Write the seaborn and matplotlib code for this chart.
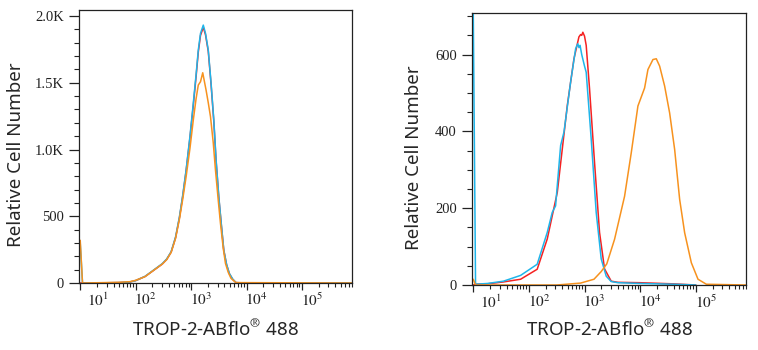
import numpy as np
import matplotlib.pyplot as plt
import matplotlib.ticker as mticker
import matplotlib.transforms as mtransforms
import seaborn as sns

sns.set_style("ticks")
plt.rcParams["font.family"] = ["Noto Sans", "DejaVu Sans"]
plt.rcParams["mathtext.fontset"] = "stix"

RED = "#F52222"
CYAN = "#1FB5EA"
ORANGE = "#F7921E"

# ── Left panel data (fluorescence intensity vs. cell count) ──
left_x = [10, 11, 13, 50, 79, 100, 148, 200, 302, 363, 437, 525, 617, 708, 813,
          955, 1096, 1230, 1349, 1479, 1660, 1820, 2042, 2291, 2570, 2818, 3162,
          3548, 3890, 4365, 4898, 5623, 6457, 10000, 800000]
left_cyan = [300, 0, 0, 3, 8, 18, 50, 90, 145, 180, 235, 345, 497, 660, 846,
             1100, 1346, 1560, 1745, 1870, 1932, 1870, 1745, 1500, 1221, 930, 646,
             420, 247, 140, 72, 30, 3, 0, 0]
left_red = [0, 0, 0, 3, 8, 18, 49, 88, 142, 177, 232, 340, 490, 652, 840,
            1090, 1330, 1545, 1730, 1855, 1915, 1860, 1735, 1490, 1210, 920, 640,
            415, 245, 138, 70, 28, 3, 0, 0]
left_orange_x = [10, 11, 50, 79, 100, 148, 200, 302, 363, 437, 525, 617, 708, 813,
                 955, 1096, 1230, 1349, 1479, 1622, 1738, 1862, 2042, 2239, 2512,
                 2754, 3090, 3388, 3802, 4169, 4677, 5248, 6457, 800000]
left_orange = [320, 0, 5, 10, 20, 48, 88, 142, 175, 230, 335, 480, 630, 796,
               1010, 1221, 1380, 1483, 1508, 1575, 1510, 1446, 1350, 1246, 1050,
               846, 620, 447, 260, 147, 80, 35, 3, 0]

# ── Right panel data ──
right_cyan_x = [10, 11, 18, 35, 71, 141, 214, 263, 302, 372, 427, 562, 692, 724,
                759, 794, 832, 891, 1000, 1072, 1318, 1622, 1995, 2455, 3020, 3981,
                10000, 39811, 100000]
right_cyan = [720, 2, 4, 10, 25, 54, 137, 189, 206, 363, 398, 528, 615, 622,
              628, 618, 624, 600, 570, 554, 381, 189, 68, 23, 9, 6, 4, 2, 0]
right_red_x = [10, 11, 18, 35, 71, 100, 141, 214, 324, 490, 646, 794, 851, 891,
               933, 1000, 1072, 1230, 1514, 1862, 2291, 3020, 3981, 10000, 39811,
               100000]
right_red = [0, 2, 3, 8, 15, 28, 41, 120, 241, 467, 589, 646, 652, 650,
             658, 648, 624, 512, 319, 137, 42, 10, 7, 6, 3, 0]
right_orange_x = [10, 11, 316, 851, 1479, 1995, 2512, 3467, 5248, 6918, 9120,
                  12023, 13804, 16982, 19498, 22387, 27542, 33884, 41687, 51286,
                  63096, 83176, 109648, 154882, 800000]
right_orange = [15, 0, 0, 5, 15, 35, 55, 119, 231, 344, 466, 513, 561, 587, 589,
                570, 518, 448, 353, 223, 136, 58, 15, 2, 0]

x_ticks = [10, 100, 1000, 10000, 100000]
x_ticklabels = ["$10^{1}$", "$10^{2}$", "$10^{3}$", "$10^{4}$", "$10^{5}$"]
left_yticks = [0, 500, 1000, 1500, 2000]
left_yticklabels = ["0", "500", "1.0K", "1.5K", "2.0K"]
right_yticks = [0, 200, 400, 600]
right_yticklabels = ["0", "200", "400", "600"]

fig = plt.figure(figsize=(7.58, 3.5), dpi=100)
ax1 = fig.add_axes([0.1042, 0.1914, 0.3602, 0.780])
ax2 = fig.add_axes([0.6227, 0.1857, 0.3615, 0.777])

LW = 1.1
sns.lineplot(x=left_x, y=left_red, color=RED, lw=LW, ax=ax1, estimator=None)
sns.lineplot(x=left_x, y=left_cyan, color=CYAN, lw=LW, ax=ax1, estimator=None)
sns.lineplot(x=left_orange_x, y=left_orange, color=ORANGE, lw=LW, ax=ax1, estimator=None)

sns.lineplot(x=right_red_x, y=right_red, color=RED, lw=LW, ax=ax2, estimator=None)
sns.lineplot(x=right_cyan_x, y=right_cyan, color=CYAN, lw=LW, ax=ax2, estimator=None)
sns.lineplot(x=right_orange_x, y=right_orange, color=ORANGE, lw=LW, ax=ax2, estimator=None)


def style_axis(ax, ymax, yticks, yticklabels, yminor, ylab_x, xlab_y):
    ax.set_xscale("log")
    ax.set_xlim(9.5, 8e5)
    ax.set_ylim(0, ymax)
    ax.set_xticks(x_ticks)
    ax.set_xticklabels(x_ticklabels)
    ax.xaxis.set_minor_locator(mticker.LogLocator(base=10, subs=np.arange(2, 10), numticks=20))
    ax.xaxis.set_minor_formatter(mticker.NullFormatter())
    ax.set_yticks(yticks)
    ax.set_yticklabels(yticklabels)
    ax.yaxis.set_minor_locator(mticker.MultipleLocator(yminor))
    for s in ax.spines.values():
        s.set_visible(True)
        s.set_linewidth(0.9)
        s.set_color("#222222")
    ax.tick_params(axis="x", which="major", length=4.8, width=0.9, pad=2,
                   labelsize=11, colors="#222222")
    ax.tick_params(axis="x", which="minor", length=2.8, width=0.8, colors="#222222")
    ax.tick_params(axis="y", which="major", length=7, width=0.9, pad=4,
                   labelsize=10.5, labelfontfamily="Liberation Serif", colors="#222222")
    ax.tick_params(axis="y", which="minor", length=3.5, width=0.8, colors="#222222")
    # shift decade labels to the right of their ticks, like the cytometer export
    for i, lab in enumerate(ax.get_xticklabels()):
        dx = 0.18 if i == 0 else 0.10
        lab.set_transform(lab.get_transform() +
                          mtransforms.ScaledTranslation(dx, 0, fig.dpi_scale_trans))
    ax.set_xlabel("TROP-2-ABflo$^{\\circledR}$ 488", fontsize=13.5)
    ax.set_ylabel("Relative Cell Number", fontsize=13.5)
    ax.yaxis.set_label_coords(ylab_x, 0.47)
    ax.xaxis.set_label_coords(0.5, xlab_y)


style_axis(ax1, 2045, left_yticks, left_yticklabels, 100, -0.198, -0.128)
style_axis(ax2, 708, right_yticks, right_yticklabels, 50, -0.179, -0.121)

plt.savefig("out.png", dpi=100)
